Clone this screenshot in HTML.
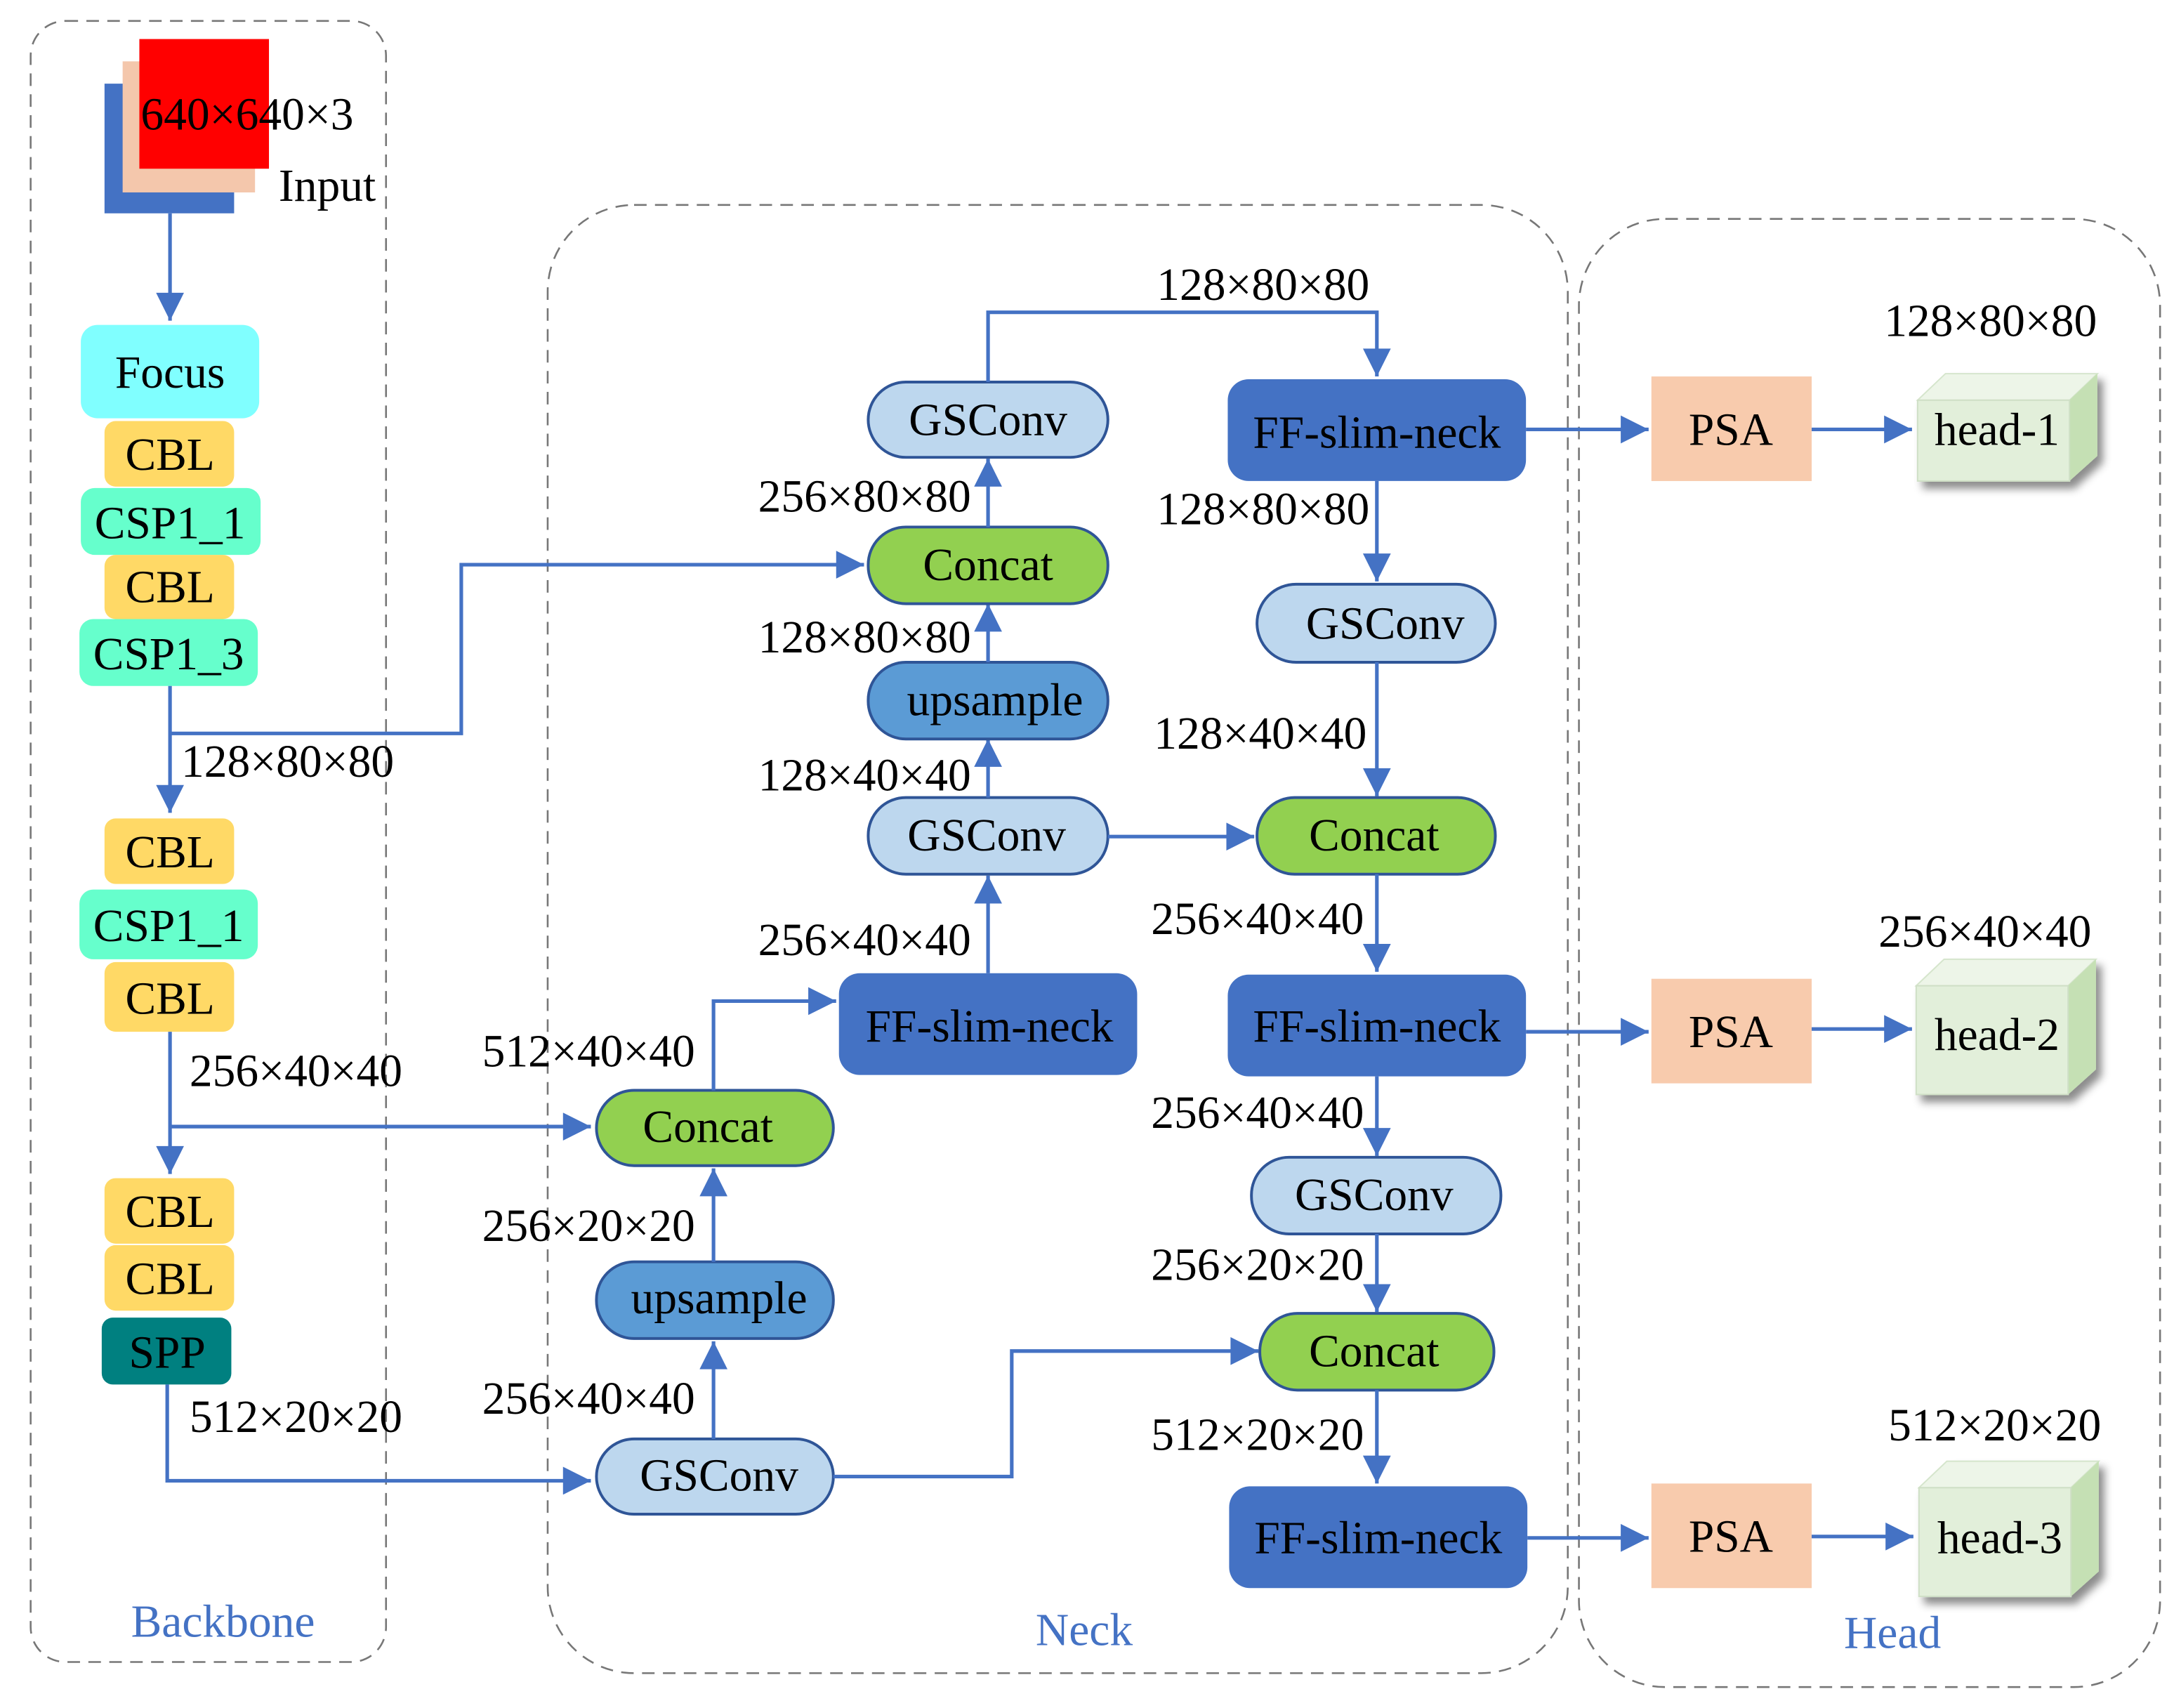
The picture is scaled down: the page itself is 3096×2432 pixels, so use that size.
<!DOCTYPE html>
<html><head><meta charset="utf-8"><style>
html,body{margin:0;padding:0;background:#fff}
svg{display:block}
text{font-family:"Liberation Serif",serif;font-size:33px;fill:#000}
.c{text-anchor:middle}
.lb{fill:#4472C4;font-size:33px;text-anchor:middle}
.ln{stroke:#4472C4;stroke-width:2.6;fill:none}
.dash{stroke:#777;stroke-width:1.3;fill:none;stroke-dasharray:9 6}
.pl{stroke:#2F5597;stroke-width:2}
</style></head><body>
<svg width="3096" height="2432" viewBox="0 0 1560 1225" preserveAspectRatio="none" xmlns="http://www.w3.org/2000/svg">
<defs>
<marker id="A" viewBox="0 0 10 10" refX="10" refY="5" markerWidth="26" markerHeight="20" markerUnits="userSpaceOnUse" orient="auto"><path d="M0,0 L10,5 L0,10z" fill="#4472C4"/></marker>
<filter id="sh" x="-20%" y="-20%" width="150%" height="150%"><feDropShadow dx="4" dy="5" stdDeviation="3" flood-color="#000" flood-opacity="0.45"/></filter>
</defs>

<rect class="dash" x="22" y="15" width="255" height="1177" rx="25"/>
<rect class="dash" x="393" y="147" width="732" height="1053" rx="62"/>
<rect class="dash" x="1133" y="157" width="417" height="1053" rx="62"/>
<text class="lb" x="160" y="1174">Backbone</text>
<text class="lb" x="778" y="1180">Neck</text>
<text class="lb" x="1358" y="1182">Head</text>

<rect x="75" y="60" width="93" height="93" fill="#4472C4"/>
<rect x="88" y="44" width="95" height="94" fill="#F4C7AC"/>
<rect x="100" y="28" width="93" height="93" fill="#FF0000"/>
<text x="101" y="93">640×640×3</text>
<text x="200" y="144">Input</text>
<path class="ln" d="M122,153 V230" marker-end="url(#A)"/>

<rect x="58" y="233" width="128" height="67" rx="12" fill="#80FFFF"/><text class="c" x="122" y="278">Focus</text>
<rect x="75" y="302" width="93" height="47" rx="8" fill="#FFD966"/><text class="c" x="122" y="337">CBL</text>
<rect x="58" y="350" width="129" height="48" rx="10" fill="#66FFCC"/><text class="c" x="122" y="386">CSP1_1</text>
<rect x="75" y="398" width="93" height="46" rx="8" fill="#FFD966"/><text class="c" x="122" y="432">CBL</text>
<rect x="57" y="444" width="128" height="48" rx="10" fill="#66FFCC"/><text class="c" x="121" y="480">CSP1_3</text>

<path class="ln" d="M122,492 V583" marker-end="url(#A)"/>
<path class="ln" d="M122,526 H331 V405 H620" marker-end="url(#A)"/>
<text x="130" y="557">128×80×80</text>

<rect x="75" y="587" width="93" height="47" rx="8" fill="#FFD966"/><text class="c" x="122" y="622">CBL</text>
<rect x="57" y="638" width="128" height="50" rx="10" fill="#66FFCC"/><text class="c" x="121" y="675">CSP1_1</text>
<rect x="75" y="690" width="93" height="50" rx="8" fill="#FFD966"/><text class="c" x="122" y="727">CBL</text>

<path class="ln" d="M122,740 V842" marker-end="url(#A)"/>
<path class="ln" d="M122,808 H424" marker-end="url(#A)"/>
<text x="136" y="779">256×40×40</text>

<rect x="75" y="845" width="93" height="47" rx="8" fill="#FFD966"/><text class="c" x="122" y="880">CBL</text>
<rect x="75" y="893" width="93" height="47" rx="8" fill="#FFD966"/><text class="c" x="122" y="928">CBL</text>
<rect x="73" y="945" width="93" height="48" rx="8" fill="#008080"/><text class="c" x="120" y="981">SPP</text>

<path class="ln" d="M120,993 V1062 H424" marker-end="url(#A)"/>
<text x="136" y="1027">512×20×20</text>

<rect class="pl" x="428" y="1032" width="170" height="54" rx="27" fill="#BDD7EE"/><text class="c" x="516" y="1069">GSConv</text>
<path class="ln" d="M512,1032 V962" marker-end="url(#A)"/>
<text x="346" y="1014">256×40×40</text>
<rect class="pl" x="428" y="905" width="170" height="55" rx="27" fill="#5B9BD5"/><text class="c" x="516" y="942">upsample</text>
<path class="ln" d="M512,905 V838" marker-end="url(#A)"/>
<text x="346" y="890">256×20×20</text>
<rect class="pl" x="428" y="782" width="170" height="54" rx="27" fill="#92D050"/><text class="c" x="508" y="819">Concat</text>
<text x="346" y="765">512×40×40</text>
<path class="ln" d="M512,782 V718 H600" marker-end="url(#A)"/>
<path class="ln" d="M598,1059 H726 V969 H903" marker-end="url(#A)"/>

<rect x="602" y="698" width="214" height="73" rx="15" fill="#4472C4"/><text class="c" x="710" y="747">FF-slim-neck</text>
<path class="ln" d="M709,698 V628" marker-end="url(#A)"/>
<text x="544" y="685">256×40×40</text>
<rect class="pl" x="623" y="572" width="172" height="55" rx="27" fill="#BDD7EE"/><text class="c" x="708" y="610">GSConv</text>
<path class="ln" d="M795,600 H900" marker-end="url(#A)"/>
<path class="ln" d="M709,572 V530" marker-end="url(#A)"/>
<text x="544" y="567">128×40×40</text>
<rect class="pl" x="623" y="475" width="172" height="55" rx="27" fill="#5B9BD5"/><text class="c" x="714" y="513">upsample</text>
<path class="ln" d="M709,475 V433" marker-end="url(#A)"/>
<text x="544" y="468">128×80×80</text>
<rect class="pl" x="623" y="378" width="172" height="55" rx="27" fill="#92D050"/><text class="c" x="709" y="416">Concat</text>
<path class="ln" d="M709,378 V329" marker-end="url(#A)"/>
<text x="544" y="367">256×80×80</text>
<rect class="pl" x="623" y="274" width="172" height="54" rx="27" fill="#BDD7EE"/><text class="c" x="709" y="312">GSConv</text>
<path class="ln" d="M709,274 V224 H988 V270" marker-end="url(#A)"/>
<text x="830" y="215">128×80×80</text>

<rect x="881" y="272" width="214" height="73" rx="15" fill="#4472C4"/><text class="c" x="988" y="321">FF-slim-neck</text>
<path class="ln" d="M1095,308 H1183" marker-end="url(#A)"/>
<path class="ln" d="M988,345 V417" marker-end="url(#A)"/>
<text x="830" y="376">128×80×80</text>
<rect class="pl" x="902" y="419" width="171" height="56" rx="28" fill="#BDD7EE"/><text class="c" x="994" y="458">GSConv</text>
<path class="ln" d="M988,475 V571" marker-end="url(#A)"/>
<text x="828" y="537">128×40×40</text>
<rect class="pl" x="902" y="572" width="171" height="55" rx="27" fill="#92D050"/><text class="c" x="986" y="610">Concat</text>
<path class="ln" d="M988,627 V697" marker-end="url(#A)"/>
<text x="826" y="670">256×40×40</text>
<rect x="881" y="699" width="214" height="73" rx="15" fill="#4472C4"/><text class="c" x="988" y="747">FF-slim-neck</text>
<path class="ln" d="M1095,740 H1183" marker-end="url(#A)"/>
<path class="ln" d="M988,772 V829" marker-end="url(#A)"/>
<text x="826" y="809">256×40×40</text>
<rect class="pl" x="898" y="830" width="179" height="55" rx="27" fill="#BDD7EE"/><text class="c" x="986" y="868">GSConv</text>
<path class="ln" d="M988,885 V941" marker-end="url(#A)"/>
<text x="826" y="918">256×20×20</text>
<rect class="pl" x="904" y="942" width="168" height="55" rx="27" fill="#92D050"/><text class="c" x="986" y="980">Concat</text>
<path class="ln" d="M988,997 V1064" marker-end="url(#A)"/>
<text x="826" y="1040">512×20×20</text>
<rect x="882" y="1066" width="214" height="73" rx="15" fill="#4472C4"/><text class="c" x="989" y="1114">FF-slim-neck</text>
<path class="ln" d="M1096,1103 H1183" marker-end="url(#A)"/>

<rect x="1185" y="270" width="115" height="75" fill="#F8CBAD"/><text class="c" x="1242" y="319">PSA</text>
<path class="ln" d="M1300,308 H1372" marker-end="url(#A)"/>
<rect x="1185" y="702" width="115" height="75" fill="#F8CBAD"/><text class="c" x="1242" y="751">PSA</text>
<path class="ln" d="M1300,738 H1372" marker-end="url(#A)"/>
<rect x="1185" y="1064" width="115" height="75" fill="#F8CBAD"/><text class="c" x="1242" y="1113">PSA</text>
<path class="ln" d="M1300,1102 H1373" marker-end="url(#A)"/>

<g filter="url(#sh)">
<path d="M1376,287 L1396,268 L1505,268 L1485,287z" fill="#EDF5E8" stroke="#d5e5cc" stroke-width="1"/>
<path d="M1485,287 L1505,268 L1505,327 L1485,345z" fill="#C5E0B4"/>
<rect x="1376" y="287" width="109" height="58" fill="#E2EFDA" stroke="#cfdfc6" stroke-width="1"/>
</g>
<text class="c" x="1433" y="319">head-1</text>
<text x="1352" y="241">128×80×80</text>

<g filter="url(#sh)">
<path d="M1375,707 L1395,688 L1504,688 L1484,707z" fill="#EDF5E8" stroke="#d5e5cc" stroke-width="1"/>
<path d="M1484,707 L1504,688 L1504,767 L1484,785z" fill="#C5E0B4"/>
<rect x="1375" y="707" width="109" height="78" fill="#E2EFDA" stroke="#cfdfc6" stroke-width="1"/>
</g>
<text class="c" x="1433" y="753">head-2</text>
<text x="1348" y="679">256×40×40</text>

<g filter="url(#sh)">
<path d="M1377,1067 L1397,1048 L1506,1048 L1486,1067z" fill="#EDF5E8" stroke="#d5e5cc" stroke-width="1"/>
<path d="M1486,1067 L1506,1048 L1506,1127 L1486,1145z" fill="#C5E0B4"/>
<rect x="1377" y="1067" width="109" height="78" fill="#E2EFDA" stroke="#cfdfc6" stroke-width="1"/>
</g>
<text class="c" x="1435" y="1114">head-3</text>
<text x="1355" y="1033">512×20×20</text>
</svg>
</body></html>
